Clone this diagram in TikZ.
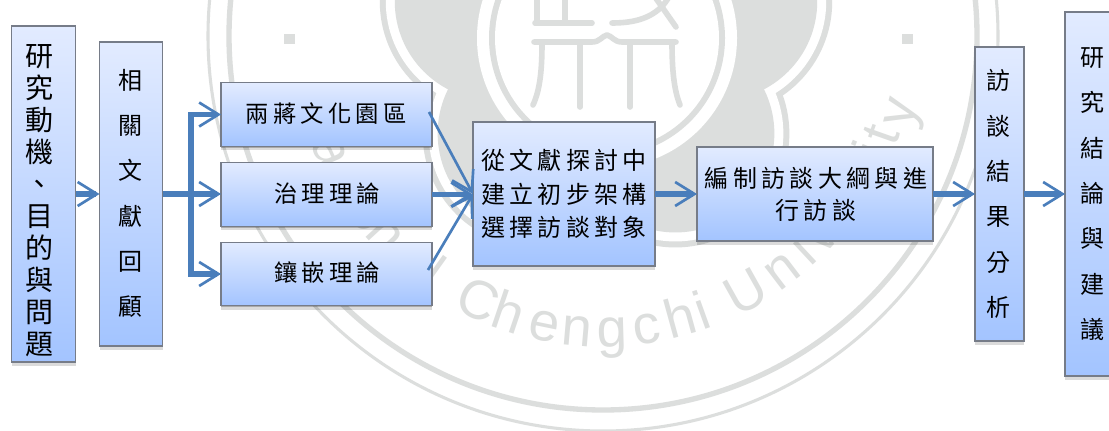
\documentclass[tikz,border=0pt]{standalone}
\usepackage{fontspec}
\usetikzlibrary{arrows.meta,shadows,calc}
\setmainfont{Liberation Sans}
\newfontfamily\cjkv{Noto Sans CJK TC}
\newfontfamily\cjkh[LetterSpace=18]{Noto Sans CJK TC}
\definecolor{wm}{HTML}{DCDEDD}
\definecolor{boxtop}{HTML}{E2EBFF}
\definecolor{boxbot}{HTML}{A3C4FF}
\definecolor{edgegray}{HTML}{767C88}
\definecolor{flow}{HTML}{4A7EBB}
\def\px{0.75pt}
\tikzset{
  flowbox/.style={draw=edgegray,line width=1.1pt,top color=boxtop,bottom color=boxbot,
    inner sep=0pt,outer sep=0pt,
    drop shadow={shadow xshift=0pt,shadow yshift=-1pt,opacity=.22,fill=black},
    drop shadow={shadow xshift=0pt,shadow yshift=-3pt,opacity=.14,fill=black}},
  vtext/.style={align=center,inner sep=0pt,text=black,font=\cjkv},
  htext/.style={align=center,inner sep=0pt,text=black,font=\cjkh},
  bigarrow/.style={draw=flow,line width=3.9pt,-{Straight Barb[length=14.5pt,width=18pt,line width=2pt]}},
  thinarrow/.style={draw=flow,line width=2pt,-{Straight Barb[length=14.5pt,width=18pt,line width=2pt]}},
  branch/.style={draw=flow,line width=3.9pt},
  wmletter/.style={text=wm,inner sep=0pt,anchor=base,font=\fontsize{41}{44}\selectfont},
  wmstroke/.style={draw=wm,line width=4.2pt,line cap=round,line join=round}
}
\begin{document}
\begin{tikzpicture}[x=0.75pt,y=-0.75pt]
\useasboundingbox (0,0) rectangle (1109,431);
\clip (0,0) rectangle (1109,431);
\fill[white] (0,0) rectangle (1109,431);

% watermark: rings
\draw[wm,line width=2.3pt] (603,36) circle [radius=395];
\draw[wm,line width=4pt] (603,36) circle [radius=374];
% blossom
\foreach \a in {0,72,144,216,288}
  \fill[wm] ({606+118*sin(\a)},{38-118*cos(\a)}) circle [radius=114];
\fill[wm] (606,38) circle [radius=150];
\foreach \a in {0,72,144,216,288}
  \fill[white] ({606+118*sin(\a)},{38-118*cos(\a)}) circle [radius=108];
\fill[white] (606,38) circle [radius=150];
\foreach \a in {0,72,144,216,288}
  \fill[wm] ({606+118*sin(\a)},{38-118*cos(\a)}) circle [radius=99];
\fill[wm] (606,38) circle [radius=150];
\fill[white] (607,38) circle [radius=130];
\fill[wm] (607,38) circle [radius=118];
\fill[white] (607,38) circle [radius=112];
% seal glyph
\draw[wmstroke] (534,42) -- (592,42) .. controls (600,42) and (602,36) .. (607,35) .. controls (612,36) and (614,42) .. (622,42) -- (676,42);
\draw[wmstroke] (542,43) .. controls (542,70) and (540,90) .. (533,105);
\draw[wmstroke] (672,43) .. controls (672,70) and (674,90) .. (680,105);
\draw[wmstroke] (580,43) -- (580,107);
\draw[wmstroke] (630,43) -- (630,107);
\draw[wmstroke] (535,23) -- (592,23);
\draw[wmstroke] (537,-5) -- (537,23);
\draw[wmstroke] (565,-5) -- (565,23);
\draw[wmstroke] (612,23) .. controls (635,23) and (658,18) .. (670,-5);
\draw[wmstroke] (655,-3) -- (676,27);
% dots
\fill[wm] (284,34) rectangle (295,44);
\fill[wm] (902,34) rectangle (913,44);
% circular legend
\foreach \ch/\ang/\rad [count=\i] in {N/75/311,a/67/311,t/62/311,i/58.5/311,o/53/311,n/47.5/311,a/41.5/311,l/35.5/311,
  C/25.2/311,h/18.7/311,e/11.5/311,n/5/311,g/-1.7/311,c/-8.6/311,h/-15.4/311,i/-19.8/311,
  U/-29.2/311,n/-37.3/311,i/-43/311,v/-47.5/311,e/-53/311,r/-58.5/311,s/-62.5/311,i/-67/311,t/-70.5/313,y/-75.5/322}
  \node[wmletter,rotate=-\ang] (wm\i) at ({603-\rad*sin(\ang)},{36+\rad*cos(\ang)}) {\ch};

% boxes
\node[flowbox,minimum width=64*\px,minimum height=336*\px] (A) at (43.5,194) {};
\node[flowbox,minimum width=63*\px,minimum height=304*\px] (B) at (131,194) {};
\node[flowbox,minimum width=211*\px,minimum height=63.5*\px] (C1) at (326.5,114.5) {};
\node[flowbox,minimum width=211*\px,minimum height=63.5*\px] (C2) at (326.5,194.5) {};
\node[flowbox,minimum width=211*\px,minimum height=63.5*\px] (C3) at (326.5,274) {};
\node[flowbox,minimum width=182*\px,minimum height=144*\px] (D) at (564,194) {};
\node[flowbox,minimum width=236*\px,minimum height=94*\px] (E) at (815,194) {};
\node[flowbox,minimum width=49*\px,minimum height=294*\px] (F) at (999.5,194) {};
\node[flowbox,minimum width=100*\px,minimum height=364*\px] (G) at (1115,194) {};

% texts
\node[vtext,font=\cjkv\fontsize{21}{24}\selectfont] (Atext) at (39,200.5) {研\\究\\動\\機\\、\\目\\的\\與\\問\\題};
\node[vtext,font=\cjkv\fontsize{18}{34}\selectfont] (Btext) at (130,193.5) {相\\關\\文\\獻\\回\\顧};
\node[htext,font=\cjkh\fontsize{17.5}{20}\selectfont] (C1text) at (326,114) {兩蔣文化園區};
\node[htext,font=\cjkh\fontsize{17.5}{20}\selectfont] (C2text) at (327,193.5) {治理理論};
\node[htext,font=\cjkh\fontsize{17.5}{20}\selectfont] (C3text) at (327,273) {鑲嵌理論};
\node[htext,font=\cjkh\fontsize{18}{25}\selectfont] (Dtext) at (564,194) {從文獻探討中\\建立初步架構\\選擇訪談對象};
\node[htext,font=\cjkh\fontsize{18}{24}\selectfont] (Etext) at (816,194) {編制訪談大綱與進\\行訪談};
\node[vtext,font=\cjkv\fontsize{18}{34}\selectfont] (Ftext) at (998.5,194) {訪\\談\\結\\果\\分\\析};
\node[vtext,font=\cjkv\fontsize{18}{34}\selectfont] (Gtext) at (1092,194) {研\\究\\結\\論\\與\\建\\議};

% connectors
\coordinate (junc) at (191,194);
\coordinate (c1out) at (429,112);
\coordinate (c3out) at (428,270);
\draw[bigarrow] (A.east) -- (B.west);
\draw[branch] (B.east) -- (junc);
\draw[bigarrow] (junc) -- (junc -| C2.west);
\draw[bigarrow] (junc) |- (C1.west);
\draw[bigarrow] (junc) |- (C3.west);
\draw[bigarrow] (C2.east) -- (C2.east -| D.west);
\draw[thinarrow] (c1out) -- (D.west);
\draw[thinarrow] (c3out) -- (D.west);
\draw[bigarrow] (D.east) -- (E.west);
\draw[bigarrow] (E.east) -- (F.west);
\draw[bigarrow] (F.east) -- (F.east -| G.west);
\end{tikzpicture}
\end{document}
